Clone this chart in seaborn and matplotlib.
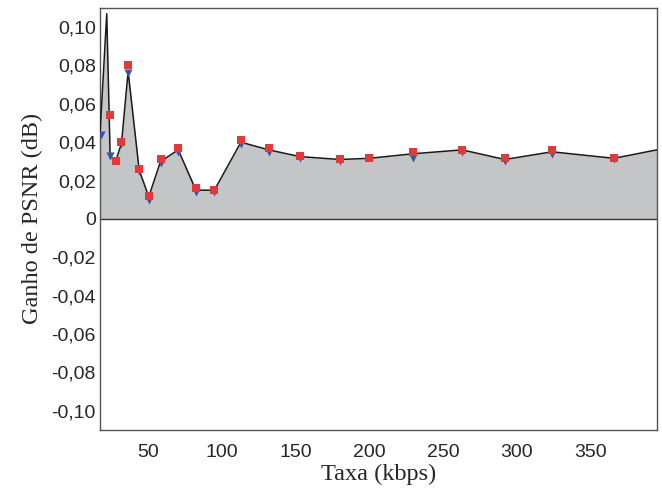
import matplotlib
matplotlib.use("Agg")
import matplotlib.pyplot as plt
import seaborn as sns
import pandas as pd
from matplotlib.ticker import FixedLocator, FuncFormatter

# Line / area envelope
line_rate = [17.4, 22, 24.3, 28, 32, 36.5, 44, 50.5, 58.5, 70.5, 82.5, 95, 113, 132, 153, 180, 200, 230, 263, 292, 324, 366, 395]
line_gain = [0.044, 0.107, 0.033, 0.030, 0.0394, 0.077, 0.0255, 0.0116, 0.030, 0.036, 0.015, 0.015, 0.040, 0.036, 0.0325, 0.031, 0.0316, 0.034, 0.036, 0.031, 0.035, 0.0316, 0.036]

# Blue markers
blue_rate = [18, 24.3, 28, 32, 36.5, 44, 50.5, 58.5, 70.5, 82.5, 95, 113, 132, 153, 180, 200, 230, 263, 292, 324, 366]
blue_gain = [0.044, 0.033, 0.030, 0.039, 0.076, 0.025, 0.010, 0.029, 0.035, 0.014, 0.014, 0.039, 0.035, 0.032, 0.030, 0.0316, 0.032, 0.035, 0.030, 0.034, 0.031]

# Red markers
red_rate = [24.3, 28, 32, 36.5, 44, 50.5, 58.5, 70.5, 82.5, 95, 113, 132, 153, 180, 200, 230, 263, 292, 324, 366]
red_gain = [0.054, 0.030, 0.040, 0.080, 0.026, 0.012, 0.031, 0.037, 0.016, 0.015, 0.041, 0.037, 0.033, 0.031, 0.032, 0.035, 0.036, 0.032, 0.036, 0.032]

x_ticks = [50, 100, 150, 200, 250, 300, 350]
y_ticks = [-0.10, -0.08, -0.06, -0.04, -0.02, 0, 0.02, 0.04, 0.06, 0.08, 0.10]

sns.set_style("white")
fig = plt.figure(figsize=(6.62, 4.97), dpi=100)
ax = fig.add_axes([0.151, 0.135, 0.841, 0.849])

ax.fill_between(line_rate, 0, line_gain, color="#c3c5c6", zorder=1, linewidth=0)
df_line = pd.DataFrame({"rate": line_rate, "gain": line_gain})
sns.lineplot(data=df_line, x="rate", y="gain", ax=ax, color="#1a1a1a", linewidth=1.1, zorder=3, sort=False)

df_b = pd.DataFrame({"rate": blue_rate, "gain": blue_gain})
df_r = pd.DataFrame({"rate": red_rate, "gain": red_gain})
sns.scatterplot(data=df_b, x="rate", y="gain", ax=ax, color="#3a55a4", marker="v", s=34, linewidth=0, zorder=4)
sns.scatterplot(data=df_r, x="rate", y="gain", ax=ax, color="#e23a3a", marker="s", s=26, linewidth=0, zorder=5)

ax.axhline(0, color="#333333", linewidth=1.0, zorder=2)

ax.set_xlim(17.4, 395)
ax.set_ylim(-0.11, 0.11)
ax.xaxis.set_major_locator(FixedLocator(x_ticks))
ax.yaxis.set_major_locator(FixedLocator(y_ticks))

def yfmt(v, pos):
    if abs(v) < 1e-9:
        return "0"
    return f"{v:.2f}".replace(".", ",")
ax.yaxis.set_major_formatter(FuncFormatter(yfmt))

ax.tick_params(axis="x", direction="in", length=5, width=0.8, color="#555555", labelsize=14, pad=10)
ax.tick_params(axis="y", length=0, labelsize=14, pad=3)
for lab in ax.get_xticklabels() + ax.get_yticklabels():
    lab.set_family("Liberation Sans")

for s in ax.spines.values():
    s.set_color("#555555")
    s.set_linewidth(1.0)

ax.set_xlabel("Taxa (kbps)", fontsize=17.5, family="Liberation Serif", labelpad=2)
ax.set_ylabel("Ganho de PSNR (dB)", fontsize=17.5, family="Liberation Serif", labelpad=6)

fig.savefig("out.png", dpi=100)
